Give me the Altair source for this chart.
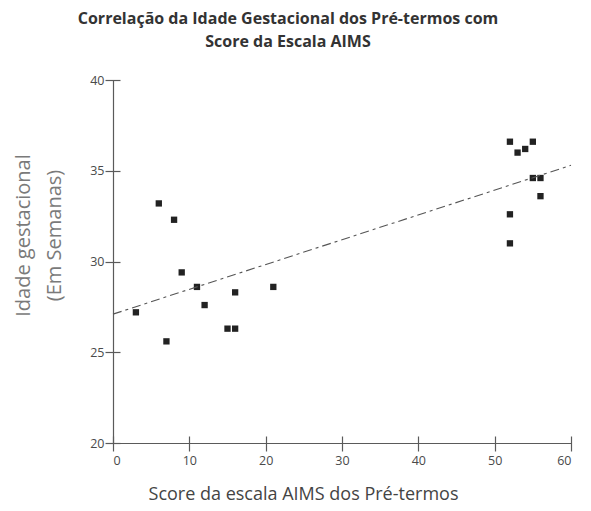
import altair as alt
import pandas as pd

score = [3, 6, 8, 7, 9, 11, 12, 15, 16, 16, 21, 52, 53, 54, 55, 55, 56, 56, 52, 52]
idade = [27.2, 33.2, 32.3, 25.6, 29.4, 28.6, 27.6, 26.3, 26.3, 28.3, 28.6,
         36.6, 36.0, 36.2, 36.6, 34.6, 34.6, 33.6, 32.6, 31.0]
trend_x = [0, 60]
trend_y = [27.1, 35.3]
x_ticks = [0, 10, 20, 30, 40, 50, 60]
y_ticks = [20, 25, 30, 35, 40]

pts = pd.DataFrame({"score": score, "idade": idade})
trend = pd.DataFrame({"score": trend_x, "idade": trend_y})

FONT = "Open Sans"
AX = "#5a5a5a"
xs = alt.Scale(domain=[0, 60], nice=False, zero=False)
ys = alt.Scale(domain=[20, 40], nice=False, zero=False)

x_main = alt.Axis(values=x_ticks, orient="bottom", ticks=False, grid=False, domainColor=AX,
                  domainWidth=1.2, labelColor="#4a4a4a", labelFont=FONT, labelFontSize=12.5,
                  labelPadding=11,
                  title="Score da escala AIMS dos Pré-termos", titleFont=FONT, titleFontSize=18,
                  titleFontWeight="normal", titleColor="#444444", titleX=190, titleY=51,
                  titleBaseline="middle", titleAlign="center")
y_main = alt.Axis(values=y_ticks, orient="left", ticks=False, grid=False, domainColor=AX,
                  domainWidth=1.2, labelColor="#4a4a4a", labelFont=FONT, labelFontSize=12.5,
                  labelPadding=9,
                  title=["Idade gestacional", "(Em Semanas)"], titleFont=FONT, titleFontSize=20,
                  titleFontWeight="normal", titleColor="#7a7a7a", titleAngle=-90,
                  titleX=-90, titleY=155, titleBaseline="middle", titleAlign="center",
                  titleLineHeight=31)
x_tick = alt.Axis(values=x_ticks, orient="bottom", domain=False, labels=False, grid=False,
                  ticks=True, tickSize=15, tickColor=AX, tickWidth=1.2, offset=-7, title=None)
y_tick = alt.Axis(values=y_ticks, orient="left", domain=False, labels=False, grid=False,
                  ticks=True, tickSize=15, tickColor=AX, tickWidth=1.2, offset=-7, title=None)

points = alt.Chart(pts).mark_square(size=40, color="#222222", opacity=1).encode(
    x=alt.X("score:Q", scale=xs, axis=x_main),
    y=alt.Y("idade:Q", scale=ys, axis=y_main),
)
line = alt.Chart(trend).mark_line(color="#555555", strokeWidth=1.1,
                                  strokeDash=[9, 4, 3, 4]).encode(
    x=alt.X("score:Q", scale=xs, axis=x_tick),
    y=alt.Y("idade:Q", scale=ys, axis=y_tick),
)

chart = alt.layer(points, line).resolve_axis(x="independent", y="independent").properties(
    width=458, height=363,
    autosize=alt.AutoSizeParams(type="none"),
    padding={"left": 105, "top": 72, "right": 12, "bottom": 60},
    title=alt.TitleParams(
        text=["Correlação da Idade Gestacional dos Pré-termos com", "Score da Escala AIMS"],
        font=FONT, fontSize=16, fontWeight="bold", color="#333333",
        anchor="middle", dx=-54, offset=24, lineHeight=23),
).configure_view(stroke=None)

chart.save("out.html", embed_options={"renderer": "svg", "actions": False})
